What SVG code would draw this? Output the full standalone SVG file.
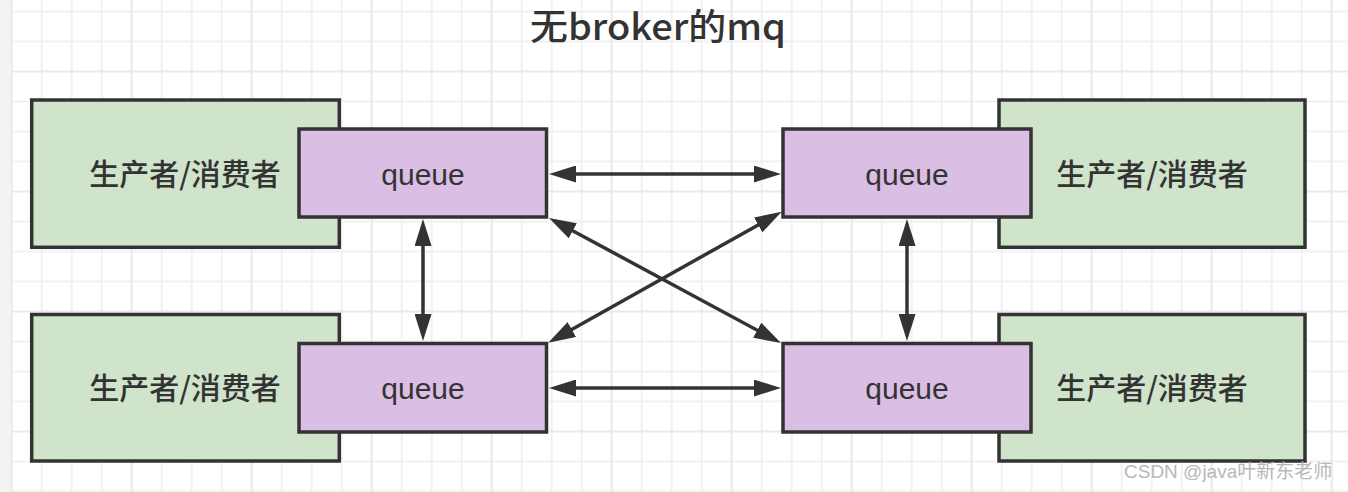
<svg xmlns="http://www.w3.org/2000/svg" width="1348" height="492" viewBox="0 0 1348 492">
  <style>
    .green { fill: #cfe4cb; stroke: #333333; stroke-width: 3.5; }
    .queue { fill: #dbbee3; stroke: #333333; stroke-width: 3.5; }
    .cn { font-family: "Noto Sans CJK SC", "Noto Sans", sans-serif; font-size: 30px; font-weight: 500; fill: #333333; text-anchor: middle; dominant-baseline: central; }
    .q { font-family: "Liberation Sans", Arial, sans-serif; font-size: 30px; fill: #333333; text-anchor: middle; dominant-baseline: central; }
    .title { font-family: "Noto Sans CJK SC", "Noto Sans", sans-serif; font-size: 36px; font-weight: 500; fill: #333333; text-anchor: middle; }
    .wm { font-family: "Liberation Sans", "Noto Sans CJK SC", sans-serif; font-size: 19px; fill: #b8b8b8; }
    .conn { stroke: #333333; stroke-width: 3.5; fill: none; marker-start: url(#ah); marker-end: url(#ah); }
  </style>
  <defs>
    <pattern id="grid" patternUnits="userSpaceOnUse" x="10.7" y="10.5" width="120" height="120">
      <rect x="0" y="0" width="120" height="120" fill="#ffffff"/>
      <g fill="#f1f1f1">
        <rect x="30" y="0" width="2" height="120"/>
        <rect x="60" y="0" width="2" height="120"/>
        <rect x="90" y="0" width="2" height="120"/>
        <rect x="0" y="0" width="120" height="2"/>
        <rect x="0" y="30" width="120" height="2"/>
        <rect x="0" y="90" width="120" height="2"/>
      </g>
      <g fill="#e9e9e9">
        <rect x="0" y="0" width="2" height="120"/>
        <rect x="0" y="60" width="120" height="2"/>
      </g>
    </pattern>
    <marker id="ah" viewBox="0 0 27 17" refX="17" refY="8.5" markerWidth="27" markerHeight="17" markerUnits="userSpaceOnUse" orient="auto-start-reverse">
      <path d="M0,0 L27,8.5 L0,17 Z" fill="#333333"/>
    </marker>
  </defs>

  <rect x="0" y="0" width="1348" height="492" fill="#ffffff"/>
  <rect x="11" y="0" width="1337" height="492" fill="url(#grid)"/>
  <rect x="0" y="0" width="11" height="492" fill="#f3f3f3"/>

  <text class="title" x="658" y="40" textLength="256" lengthAdjust="spacingAndGlyphs">无broker的mq</text>

  <g id="pc-top-left">
    <rect class="green" x="31.7" y="100" width="307.6" height="147.3"/>
    <text class="cn" x="185" y="172">生产者/消费者</text>
  </g>
  <g id="pc-bottom-left">
    <rect class="green" x="31.7" y="314.5" width="307.6" height="146.5"/>
    <text class="cn" x="185" y="386">生产者/消费者</text>
  </g>
  <g id="pc-top-right">
    <rect class="green" x="999" y="100" width="306" height="147.3"/>
    <text class="cn" x="1152" y="172">生产者/消费者</text>
  </g>
  <g id="pc-bottom-right">
    <rect class="green" x="999" y="314.5" width="306" height="146.5"/>
    <text class="cn" x="1152" y="386">生产者/消费者</text>
  </g>

  <g id="queue-top-left">
    <rect class="queue" x="299" y="129" width="247.5" height="88"/>
    <text class="q" x="423" y="174">queue</text>
  </g>
  <g id="queue-bottom-left">
    <rect class="queue" x="299" y="343.5" width="247.5" height="88.5"/>
    <text class="q" x="423" y="388">queue</text>
  </g>
  <g id="queue-top-right">
    <rect class="queue" x="783" y="129" width="248" height="88"/>
    <text class="q" x="907" y="174">queue</text>
  </g>
  <g id="queue-bottom-right">
    <rect class="queue" x="783" y="343.5" width="248" height="88.5"/>
    <text class="q" x="907" y="388">queue</text>
  </g>

  <g id="connectors">
    <line class="conn" x1="559" y1="174" x2="771" y2="174"/>
    <line class="conn" x1="559" y1="388" x2="771" y2="388"/>
    <line class="conn" x1="423" y1="229" x2="423" y2="331"/>
    <line class="conn" x1="907" y1="229" x2="907" y2="331"/>
    <line class="conn" x1="557.8" y1="222.7" x2="772.2" y2="338.3"/>
    <line class="conn" x1="773" y1="216.6" x2="557" y2="337.8"/>
  </g>

  <text class="wm" x="1124" y="478">CSDN @java叶新东老师</text>
</svg>
